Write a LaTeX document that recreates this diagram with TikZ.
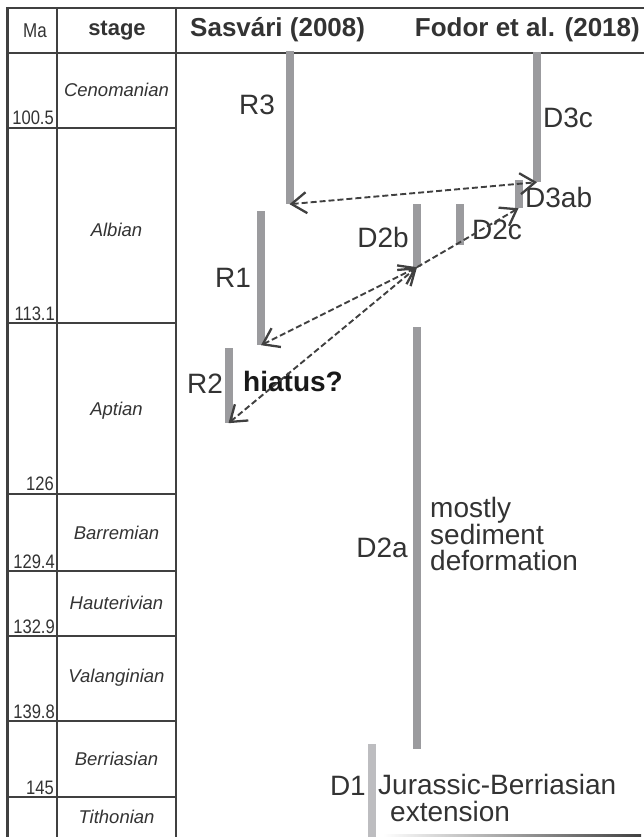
\documentclass[tikz,border=0pt]{standalone}
\usepackage{fontspec}
\setmainfont{Liberation Sans}
\newfontfamily\narrowfont[FakeStretch=0.85]{Liberation Sans}
\usetikzlibrary{arrows.meta}
\definecolor{linec}{HTML}{404040}
\definecolor{txtc}{HTML}{333333}
\definecolor{barc}{HTML}{9B9B9E}
\definecolor{barl}{HTML}{BDBDC0}
\begin{document}
\begin{tikzpicture}[x=1pt,y=-1pt,
  >={Straight Barb[length=15pt, width=21pt, line width=2.3pt]},
  tbl/.style={draw=linec, line width=1.6pt},
  hdr/.style={text=txtc, inner sep=0pt, font=\bfseries\fontsize{26}{26}\selectfont},
  num/.style={text=txtc, inner sep=0pt, anchor=base east, font=\narrowfont\fontsize{19.5}{19.5}\selectfont},
  stg/.style={text=txtc, inner sep=0pt, font=\itshape\fontsize{18.5}{18.5}\selectfont},
  bar/.style={fill=barc, draw=none, minimum width=8pt, inner sep=0pt, rectangle},
  lightbar/.style={bar, fill=barl},
  lab/.style={text=txtc, inner sep=0pt, font=\fontsize{28}{28}\selectfont},
  link/.style={draw=linec, line width=1.9pt, dash pattern=on 6pt off 3pt, <->},
  onelink/.style={draw=linec, line width=1.9pt, dash pattern=on 6pt off 3pt, ->}
]
\useasboundingbox (0,0) rectangle (644,837);
% table frame
\draw[tbl] (6,8) -- (644,8);
\draw[tbl] (7,53) -- (644,53);
\draw[draw=linec, line width=3pt] (7,7) -- (7,837);
\draw[tbl] (57,8) -- (57,837);
\draw[tbl] (176,8) -- (176,837);
\foreach \yy in {128,323,494,571,636,721,797}{\draw[tbl] (7,\yy) -- (176,\yy);}
\shade[left color=white, right color=linec] (383,834.5) rectangle (641,836.5);
% header
\node[text=txtc, inner sep=0pt, font=\narrowfont\fontsize{20}{20}\selectfont] (hMa) at (35,31) {Ma};
\node[hdr, font=\bfseries\fontsize{22}{22}\selectfont] (hStage) at (117,31) {stage};
\node[hdr, anchor=west] (hSas) at (190,30) {Sasvári (2008)};
\node[hdr, anchor=east] (hFod) at (640,30) {Fodor et al. (2018)};
% ages
\node[num] (n1) at (54,125) {100.5};
\node[num] (n2) at (55,320) {113.1};
\node[num] (n3) at (54,490) {126};
\node[num] (n4) at (55,568) {129.4};
\node[num] (n5) at (55,633) {132.9};
\node[num] (n6) at (55,718) {139.8};
\node[num] (n7) at (54,794) {145};
% stages
\node[stg] (s1) at (116.5,90) {Cenomanian};
\node[stg] (s2) at (116.5,230) {Albian};
\node[stg] (s3) at (116.5,411) {Aptian};
\node[stg] (s4) at (116.5,533) {Barremian};
\node[stg] (s5) at (116.5,603) {Hauterivian};
\node[stg] (s6) at (116.5,678) {Valanginian};
\node[stg] (s7) at (116.5,759) {Berriasian};
\node[stg] (s8) at (116.5,817) {Tithonian};
% bars
\node[bar, minimum height=153pt] (R3) at (289.5,127.5) {};
\node[bar, minimum height=134pt] (R1) at (261,278) {};
\node[bar, minimum height=75pt] (R2) at (228.5,385.5) {};
\node[bar, minimum height=130pt] (D3c) at (537,117) {};
\node[bar, minimum height=28pt] (D3ab) at (518.5,194) {};
\node[bar, minimum height=63pt] (D2b) at (417,235.5) {};
\node[bar, minimum height=41pt] (D2c) at (460,224.5) {};
\node[bar, minimum height=422pt] (D2a) at (417,538) {};
\node[lightbar, minimum height=93pt] (D1) at (372,790.5) {};
% labels
\node[lab] (lR3) at (257,105) {R3};
\node[lab] (lR1) at (233,278) {R1};
\node[lab] (lR2) at (205,384) {R2};
\node[lab, anchor=west] (lD3c) at (543,118) {D3c};
\node[lab, anchor=west] (lD3ab) at (525,197) {D3ab};
\node[lab, anchor=east] (lD2b) at (409,237) {D2b};
\node[lab, anchor=west] (lD2c) at (472,230) {D2c};
\node[lab, anchor=east] (lD2a) at (408,548) {D2a};
\node[lab, anchor=east] (lD1) at (366,786) {D1};
\node[inner sep=0pt, text=black!90, font=\bfseries\fontsize{28}{28}\selectfont] (hiat) at (293,381) {hiatus?};
\node[lab, anchor=north west, align=left, font=\fontsize{28}{26}\selectfont] (lmost) at (430,497) {mostly\\sediment\\deformation};
\node[lab, anchor=north west, align=left, font=\fontsize{28}{27}\selectfont] (lD1a) at (378,774) {Jurassic-Berriasian\\\hspace*{12pt}extension};
% connectors
\draw[link] (R3.south) -- (D3c.south);
\draw[link] (R1.south) -- (D2b.south);
\draw[link] (R2.south) -- (D2b.south);
\draw[onelink] (D2b.south) -- (D3ab.south);
\end{tikzpicture}
\end{document}
